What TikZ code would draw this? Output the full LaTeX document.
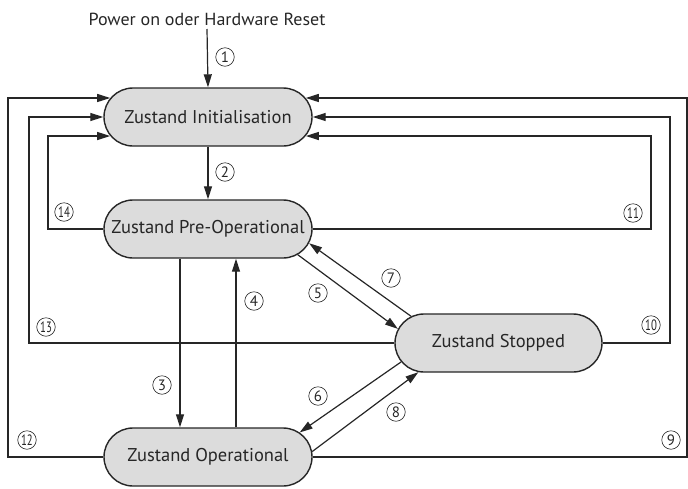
\documentclass[tikz,border=0pt]{standalone}
\usepackage{fontspec}
\setmainfont{PT Sans}
\newfontfamily\numfont[FakeStretch=0.72]{PT Sans}
\newfontfamily\titlefont[FakeStretch=1.03]{PT Sans}
\usetikzlibrary{arrows.meta,shapes.misc}
\definecolor{ink}{HTML}{262626}
\definecolor{statefill}{HTML}{DCDCDC}
\tikzset{
  statebox/.style={rounded rectangle, draw=ink, line width=1.4pt, fill=statefill,
    minimum width=208pt, minimum height=58pt, inner sep=0pt, text=ink,
    font=\fontsize{18.5}{22}\selectfont},
  conn/.style={draw=ink, line width=1.2pt},
  arr/.style={conn, -{Triangle[length=13pt,width=8pt]}},
  cnum/.style={circle, draw=ink, line width=0.6pt, minimum size=18.5pt, inner sep=0pt,
    text=ink, font=\fontsize{15}{16}\selectfont},
  cnumw/.style={cnum, font=\numfont\fontsize{15}{16}\selectfont},
}
\begin{document}
\begin{tikzpicture}[x=1pt,y=-1pt]
\useasboundingbox (0,0) rectangle (688,488);
% title
\node[text=ink, font=\titlefont\fontsize{17.5}{20}\selectfont, inner sep=3pt, anchor=south] (title) at (207,29) {Power on oder Hardware Reset};
% states
\node[statebox] (init) at (208,117) {Zustand Initialisation};
\node[statebox] (preop) at (208,229) {Zustand Pre-Operational};
\node[statebox] (oper) at (208,457) {Zustand Operational};
\node[statebox, minimum width=207pt] (stopped) at (498.5,343) {Zustand Stopped};
% corner coordinates
\coordinate (c9) at (687,280);
\coordinate (c10) at (670,230);
\coordinate (c11) at (651,180);
\coordinate (c12) at (8,280);
\coordinate (c13) at (29,230);
\coordinate (c14) at (48,180);
% connectors
\draw[arr] (title.south) -- (init.north);
\draw[arr] (init.south) -- (preop.north);
\draw[arr] ([xshift=-28pt]preop.south) -- ([xshift=-28pt]oper.north);
\draw[arr] ([xshift=28pt]oper.north) -- ([xshift=28pt]preop.south);
\draw[arr] (preop.-16) -- (stopped.172);
\draw[arr] (stopped.191) -- (oper.15);
\draw[arr] (stopped.163) -- (preop.-8);
\draw[arr] (oper.3) -- (stopped.200);
\draw[arr] (oper.east) -| (c9) |- (init.11);
\draw[arr] (stopped.east) -| (c10) |- (init.east);
\draw[arr] (preop.east) -| (c11) |- (init.-11);
\draw[arr] (oper.west) -| (c12) |- (init.169);
\draw[arr] (stopped.west) -| (c13) |- (init.west);
\draw[arr] (preop.west) -| (c14) |- (init.191);
% labels
\node[cnum] (n1) at (225,57) {1};
\node[cnum] (n2) at (225,172) {2};
\node[cnum] (n3) at (162,385) {3};
\node[cnum] (n4) at (254,301) {4};
\node[cnum] (n5) at (318,293) {5};
\node[cnum] (n6) at (318,396) {6};
\node[cnum] (n7) at (391,278) {7};
\node[cnum] (n8) at (396,412) {8};
\node[cnum] (n9) at (671,440) {9};
\node[cnumw] (n10) at (651,325) {10};
\node[cnumw] (n11) at (633,213) {11};
\node[cnumw] (n12) at (27,440) {12};
\node[cnumw] (n13) at (46,327) {13};
\node[cnumw] (n14) at (64,212) {14};
\end{tikzpicture}
\end{document}
